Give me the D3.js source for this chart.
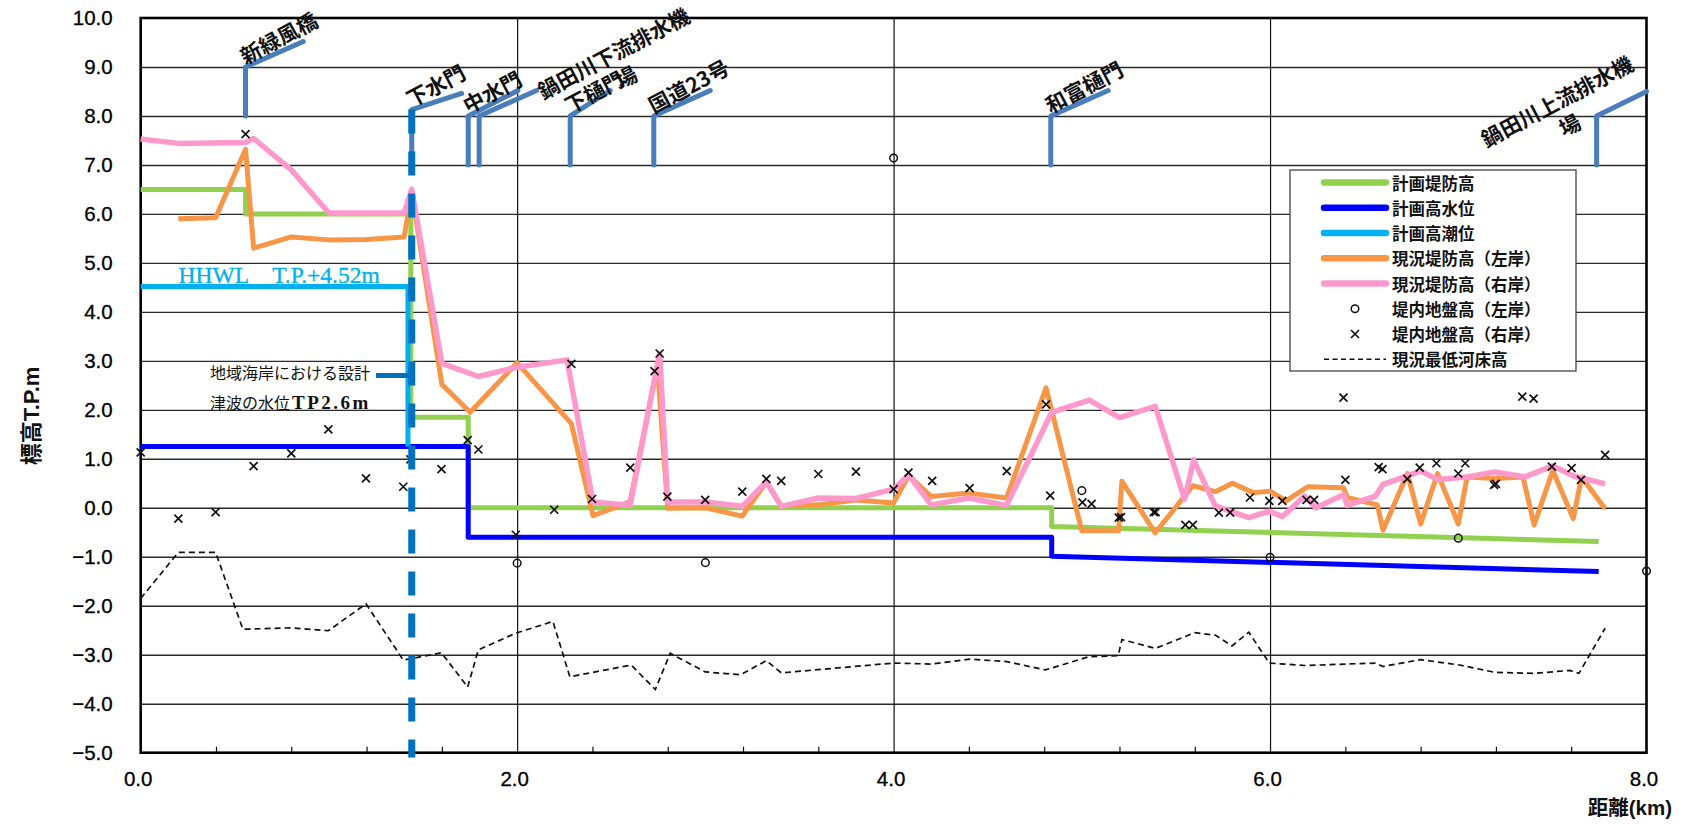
<!DOCTYPE html>
<html><head><meta charset="utf-8">
<script src="https://cdn.jsdelivr.net/npm/d3@7"></script>
<style>
html,body{margin:0;padding:0;background:#fff;}
svg{display:block;}
</style></head><body>
<svg id="chart" width="1684" height="824"></svg>
<script>
// ---------------- DATA ----------------
const xTickValues = [0, 2, 4, 6, 8];
const yTickValues = [10, 9, 8, 7, 6, 5, 4, 3, 2, 1, 0, -1, -2, -3, -4, -5];
const minorTickValues = [0.4, 0.8, 1.2, 1.6, 2.4, 2.8, 3.2, 3.6, 4.4, 4.8, 5.2, 5.6, 6.4, 6.8, 7.2, 7.6];

// 計画堤防高
const planLevee = [[0,6.5],[0.557,6.5],[0.557,6.0],[1.435,6.0],[1.435,1.85],[1.74,1.85],[1.74,0.0],[4.84,0.0],[4.84,-0.38],[7.746,-0.69]];
// 計画高水位
const planHWL = [[0,1.25],[1.74,1.25],[1.74,-0.6],[4.84,-0.6],[4.84,-0.99],[7.746,-1.3]];
// 計画高潮位
const planHHWL = [[0,4.52],[1.42,4.52],[1.42,1.25]];
// 現況堤防高（左岸）
const leftLevee = [[0.2,5.9],[0.398,5.92],[0.557,7.32],[0.6,5.3],[0.8,5.53],[1.0,5.47],[1.2,5.48],[1.4,5.53],[1.44,6.45],[1.6,2.52],[1.75,1.95],[2.0,2.96],[2.288,1.72],[2.403,-0.16],[2.6,0.12],[2.745,2.9],[2.8,-0.01],[3.0,0.0],[3.196,-0.17],[3.324,0.53],[3.403,0.04],[3.6,0.06],[3.8,0.16],[4.0,0.1],[4.08,0.66],[4.2,0.23],[4.4,0.3],[4.6,0.2],[4.81,2.45],[5.0,-0.47],[5.195,-0.47],[5.213,0.54],[5.39,-0.51],[5.59,0.45],[5.71,0.33],[5.8,0.5],[5.91,0.31],[6.0,0.34],[6.085,0.14],[6.2,0.43],[6.39,0.41],[6.41,0.21],[6.57,0.06],[6.6,-0.46],[6.73,0.7],[6.8,-0.33],[6.89,0.7],[7.0,-0.33],[7.047,0.63],[7.195,0.6],[7.344,0.63],[7.403,-0.35],[7.502,0.76],[7.611,-0.22],[7.655,0.63],[7.78,-0.02]];
// 現況堤防高（右岸）
const rightLevee = [[0.0,7.53],[0.2,7.44],[0.557,7.46],[0.6,7.54],[0.8,6.9],[1.0,6.02],[1.4,6.02],[1.44,6.5],[1.6,2.95],[1.795,2.68],[2.0,2.87],[2.265,3.02],[2.403,0.12],[2.6,0.05],[2.757,3.15],[2.8,0.12],[3.0,0.12],[3.196,0.03],[3.324,0.53],[3.403,0.03],[3.6,0.2],[3.8,0.19],[4.0,0.38],[4.08,0.67],[4.2,0.06],[4.4,0.2],[4.6,0.05],[4.84,1.95],[5.04,2.2],[5.2,1.84],[5.39,2.07],[5.546,0.17],[5.594,0.98],[5.709,0.04],[5.887,-0.2],[5.996,-0.07],[6.065,-0.18],[6.184,0.24],[6.244,0.0],[6.392,0.27],[6.41,0.05],[6.561,0.24],[6.6,0.48],[6.729,0.65],[6.8,0.75],[6.888,0.58],[7.047,0.63],[7.195,0.73],[7.354,0.63],[7.502,0.86],[7.611,0.65],[7.78,0.49]];
// 現況最低河床高
const riverbed = [[0.0,-1.85],[0.2,-0.91],[0.398,-0.91],[0.543,-2.48],[0.8,-2.45],[0.997,-2.51],[1.197,-1.96],[1.395,-3.11],[1.598,-2.96],[1.737,-3.66],[1.794,-2.9],[1.993,-2.56],[2.19,-2.32],[2.28,-3.45],[2.606,-3.21],[2.734,-3.71],[2.813,-2.97],[2.999,-3.35],[3.186,-3.41],[3.324,-3.12],[3.403,-3.37],[4.0,-3.17],[4.2,-3.19],[4.404,-3.09],[4.601,-3.14],[4.806,-3.31],[5.038,-3.04],[5.193,-3.02],[5.213,-2.69],[5.391,-2.87],[5.6,-2.55],[5.709,-2.6],[5.798,-2.82],[5.887,-2.54],[5.996,-3.17],[6.184,-3.22],[6.561,-3.17],[6.6,-3.24],[6.799,-3.1],[7.007,-3.21],[7.195,-3.36],[7.403,-3.38],[7.592,-3.32],[7.641,-3.38],[7.78,-2.46]];
// 堤内地盤高（左岸）
const groundLeft = [[2.0,-1.13],[3.0,-1.12],[4.0,7.14],[5.0,0.35],[6.0,-1.01],[7.0,-0.62],[8.0,-1.29]];
// 堤内地盤高（右岸）
const groundRight = [[0.0,1.13],[0.2,-0.22],[0.398,-0.09],[0.557,7.63],[0.6,0.85],[0.8,1.11],[0.997,1.6],[1.197,0.6],[1.395,0.43],[1.433,0.99],[1.598,0.79],[1.737,1.38],[1.794,1.19],[1.993,-0.55],[2.197,-0.04],[2.288,2.94],[2.398,0.18],[2.601,0.82],[2.73,2.79],[2.757,3.15],[2.798,0.23],[2.999,0.16],[3.196,0.33],[3.324,0.59],[3.403,0.55],[3.6,0.69],[3.8,0.74],[4.0,0.38],[4.079,0.72],[4.205,0.55],[4.404,0.4],[4.601,0.75],[4.81,2.11],[4.832,0.25],[5.003,0.11],[5.052,0.08],[5.196,-0.2],[5.208,-0.19],[5.382,-0.09],[5.392,-0.09],[5.55,-0.35],[5.59,-0.35],[5.728,-0.1],[5.788,-0.1],[5.893,0.21],[5.996,0.14],[6.065,0.14],[6.194,0.16],[6.234,0.16],[6.39,2.25],[6.4,0.57],[6.577,0.83],[6.597,0.79],[6.729,0.59],[6.795,0.82],[6.884,0.91],[7.0,0.7],[7.037,0.91],[7.19,0.47],[7.2,0.49],[7.34,2.27],[7.4,2.23],[7.497,0.84],[7.602,0.81],[7.652,0.57],[7.78,1.08]];

// 構造物（位置 km, 縦棒下端/上端, 斜線端点）
const structNames = ['新緑風橋','下水門','中水門','鍋田川下流排水機場','下樋門','国道23号','和富樋門','鍋田川上流排水機場'];
const structX     = [0.557, 1.44, 1.74, 1.798, 2.282, 2.726, 4.835, 7.735];
const structBase  = [8.0, 7.0, 7.0, 7.0, 7.0, 7.0, 7.0, 7.0];
const structTop   = [9.0, 8.13, 8.0, 8.0, 8.0, 8.0, 8.0, 8.0];
const structEndX  = [0.864, 1.705, 2.004, 2.103, 2.494, 3.026, 5.14, 8.0];
const structEndY  = [9.52, 8.46, 8.52, 8.52, 8.52, 8.52, 8.52, 8.5];

// 設計津波水位 / 対象位置
const tsunamiLevel = 2.7;
const tsunamiX = [1.25, 1.44];
const boundaryX = 1.44;
const boundaryRange = [8.13, -5.1];

const legendNames = ['計画堤防高','計画高水位','計画高潮位','現況堤防高（左岸）','現況堤防高（右岸）','堤内地盤高（左岸）','堤内地盤高（右岸）','現況最低河床高'];

// ---------------- STYLE ----------------
const C = {green:'#92D050', blue:'#0000FF', cyan:'#00B0F0', orange:'#F79646', pink:'#FF99CC', post:'#4A7EBB', dash:'#0070C0'};
const labelLayout = {
  '鍋田川下流排水機場': {lines:['鍋田川下流排水機','場'], dx:64, dy:-16},
  '鍋田川上流排水機場': {lines:['鍋田川上流排水機','場'], dx:-110, dy:32}
};
const CJK = "'Noto Sans CJK JP','Noto Sans CJK SC',sans-serif";
const LAT = "'Liberation Sans',Arial,'Noto Sans CJK JP',sans-serif";
const SERIF = "'Liberation Serif','Times New Roman',serif";

// ---------------- CHART ----------------
const svg = d3.select('#chart');
const x = d3.scaleLinear().domain([0, 8]).range([140.7, 1646.5]);
const y = d3.scaleLinear().domain([-5, 10]).range([752.7, 18]);
const line = d3.line().x(d => x(d[0])).y(d => y(d[1]));

// grid
const gridY = svg.append('g').attr('transform', `translate(${x(0)},0)`)
  .call(d3.axisLeft(y).tickValues(yTickValues.filter(v => v > -5 && v < 10)).tickSize(-(x(8) - x(0))).tickFormat(''));
gridY.select('.domain').remove();
gridY.selectAll('line').attr('stroke', '#2a2a2a').attr('stroke-width', 1.4);

const gridX = svg.append('g').attr('transform', `translate(0,${y(-5)})`)
  .call(d3.axisBottom(x).tickValues(xTickValues.filter(v => v > 0 && v < 8)).tickSize(-(y(-5) - y(10))).tickFormat(''));
gridX.select('.domain').remove();
gridX.selectAll('line').attr('stroke', '#111').attr('stroke-width', 1.2);

// minor ticks
const minor = svg.append('g').attr('transform', `translate(0,${y(-5)})`)
  .call(d3.axisBottom(x).tickValues(minorTickValues).tickSize(-6).tickFormat(''));
minor.select('.domain').remove();
minor.selectAll('line').attr('stroke', '#111').attr('stroke-width', 1.2);

// y tick labels
const fmt = v => (v < 0 ? '\u2212' : '') + Math.abs(v).toFixed(1);
const yAxis = svg.append('g').attr('transform', `translate(${x(0)},0)`)
  .call(d3.axisLeft(y).tickValues(yTickValues).tickSize(0).tickPadding(28).tickFormat(fmt));
yAxis.select('.domain').remove();
yAxis.selectAll('text').attr('font-family', LAT).attr('font-size', 20.5).attr('fill', '#000')
  .attr('stroke', '#000').attr('stroke-width', 0.3);

// x tick labels
const xAxis = svg.append('g').attr('transform', `translate(-3,${y(-5)})`)
  .call(d3.axisBottom(x).tickValues(xTickValues).tickSize(0).tickPadding(19).tickFormat(v => v.toFixed(1)));
xAxis.select('.domain').remove();
xAxis.selectAll('text').attr('font-family', LAT).attr('font-size', 20.5).attr('fill', '#000')
  .attr('stroke', '#000').attr('stroke-width', 0.3);

// frame
svg.append('rect').attr('x', x(0)).attr('y', y(10)).attr('width', x(8) - x(0)).attr('height', y(-5) - y(10))
  .attr('fill', 'none').attr('stroke', '#000').attr('stroke-width', 2.6);

// structure posts
const posts = svg.append('g');
structNames.forEach((n, i) => {
  posts.append('path')
    .attr('d', line([[structX[i], structBase[i]], [structX[i], structTop[i]], [structEndX[i], structEndY[i]]]))
    .attr('fill', 'none').attr('stroke', C.post).attr('stroke-width', 5).attr('stroke-linejoin', 'round').attr('stroke-linecap', 'round');
});

// lines
function drawLine(data, color, w) {
  svg.append('path').attr('d', line(data)).attr('fill', 'none').attr('stroke', color)
    .attr('stroke-width', w).attr('stroke-linejoin', 'round');
}
drawLine(planLevee, C.green, 5);
drawLine(planHWL, C.blue, 5);
drawLine(planHHWL, C.cyan, 5);
drawLine(leftLevee, C.orange, 5);
drawLine(rightLevee, C.pink, 5.5);
svg.append('path').attr('d', line(riverbed)).attr('fill', 'none').attr('stroke', '#111')
  .attr('stroke-width', 1.7).attr('stroke-dasharray', '6,4');

// points
svg.append('g').selectAll('circle').data(groundLeft).join('circle')
  .attr('cx', d => x(d[0])).attr('cy', d => y(d[1])).attr('r', 3.8)
  .attr('fill', 'none').attr('stroke', '#111').attr('stroke-width', 1.5);
svg.append('g').selectAll('path').data(groundRight).join('path')
  .attr('transform', d => `translate(${x(d[0])},${y(d[1])})`)
  .attr('d', 'M-4,-4L4,4M-4,4L4,-4').attr('stroke', '#111').attr('stroke-width', 1.7);

// boundary dashed line + tsunami tick
svg.append('path').attr('d', line([[boundaryX, boundaryRange[0]], [boundaryX, boundaryRange[1]]]))
  .attr('stroke', C.dash).attr('stroke-width', 7).attr('stroke-dasharray', '24,18');
svg.append('path').attr('d', line([[tsunamiX[0], tsunamiLevel], [tsunamiX[1], tsunamiLevel]]))
  .attr('stroke', C.dash).attr('stroke-width', 5);

// annotations
svg.append('text').attr('x', 178.6).attr('y', 283).attr('font-family', SERIF)
  .attr('font-size', 23.5).attr('fill', C.cyan).attr('stroke', C.cyan).attr('stroke-width', 0.3).text('HHWL\u3000T.P.+4.52m');
svg.append('text').attr('x', 210).attr('y', 379).attr('font-family', SERIF + ',' + CJK)
  .attr('font-size', 16).attr('fill', '#111').text('地域海岸における設計');
const t2 = svg.append('text').attr('x', 210).attr('y', 409).attr('font-family', SERIF + ',' + CJK)
  .attr('font-size', 16).attr('fill', '#111');
t2.append('tspan').text('津波の水位');
t2.append('tspan').attr('font-size', 19).attr('font-weight', 'bold').attr('letter-spacing', 2.5).attr('dx', 2).text('TP2.6m');

// structure labels
structNames.forEach((n, i) => {
  const lay = labelLayout[n] || {lines: [n], dx: 0, dy: -2};
  const g = svg.append('g')
    .attr('transform', `translate(${x(structX[i]) + lay.dx},${y(structTop[i]) + lay.dy}) rotate(-28)`);
  const t1 = g.append('text').attr('x', 0).attr('y', 0).attr('font-family', CJK).attr('font-size', 21)
    .attr('font-weight', 'bold').attr('fill', '#111').text(lay.lines[0]);
  if (lay.lines.length > 1) {
    const L = t1.node().getComputedTextLength();
    g.append('text').attr('x', L / 2).attr('y', 27).attr('text-anchor', 'middle').attr('font-family', CJK)
      .attr('font-size', 21).attr('font-weight', 'bold').attr('fill', '#111').text(lay.lines[1]);
  }
});

// axis titles
svg.append('text').attr('transform', 'translate(39,416) rotate(-90)').attr('text-anchor', 'middle')
  .attr('font-family', LAT).attr('font-size', 22).attr('font-weight', 'bold').attr('fill', '#111').text('標高T.P.m');
svg.append('text').attr('x', 1672).attr('y', 815).attr('text-anchor', 'end')
  .attr('font-family', LAT).attr('font-size', 20.5).attr('font-weight', 'bold').attr('fill', '#111').text('距離(km)');

// legend
const lg = svg.append('g');
lg.append('rect').attr('x', 1290).attr('y', 170).attr('width', 286).attr('height', 201)
  .attr('fill', '#fff').attr('stroke', '#444').attr('stroke-width', 1.3);
const lgColors = [C.green, C.blue, C.cyan, C.orange, C.pink];
legendNames.forEach((n, i) => {
  const cy = 182.5 + i * 25.25;
  if (i < 5) {
    lg.append('line').attr('x1', 1324).attr('x2', 1386).attr('y1', cy).attr('y2', cy)
      .attr('stroke', lgColors[i]).attr('stroke-width', 6.5).attr('stroke-linecap', 'round');
  } else if (i === 5) {
    lg.append('circle').attr('cx', 1355).attr('cy', cy).attr('r', 3.8).attr('fill', 'none').attr('stroke', '#111').attr('stroke-width', 1.5);
  } else if (i === 6) {
    lg.append('path').attr('transform', `translate(1355,${cy})`).attr('d', 'M-4,-4L4,4M-4,4L4,-4').attr('stroke', '#111').attr('stroke-width', 1.7);
  } else {
    lg.append('line').attr('x1', 1324).attr('x2', 1386).attr('y1', cy).attr('y2', cy)
      .attr('stroke', '#111').attr('stroke-width', 1.6).attr('stroke-dasharray', '5,3.5');
  }
  lg.append('text').attr('x', 1392).attr('y', cy).attr('dominant-baseline', 'central')
    .attr('font-family', CJK).attr('font-size', 16.5).attr('font-weight', 'bold').attr('fill', '#111').text(n);
});
</script>
</body></html>
